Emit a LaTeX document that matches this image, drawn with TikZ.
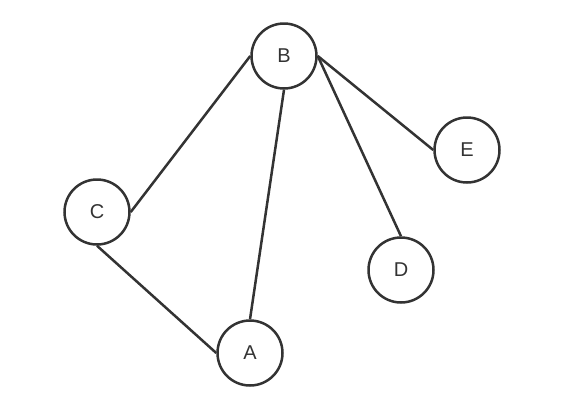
\documentclass[tikz,border=0pt]{standalone}
\usepackage{fontspec}
\setmainfont{Liberation Sans}
\begin{document}
\begin{tikzpicture}[x=1pt,y=-1pt]
\tikzstyle{vertex node}=[circle,draw=black!80,line width=2.5pt,minimum size=65pt,inner sep=0pt,font=\fontsize{20}{24}\selectfont,text=black!80]
\tikzset{
	graph edge/.style={draw=black!80,line width=2.5pt}
}
\useasboundingbox (0,0) rectangle (561,410);
\node[vertex node] (B) at (284,56) {B};
\node[vertex node] (C) at (97,212) {C};
\node[vertex node] (A) at (250,353) {A};
\node[vertex node] (D) at (401,270) {D};
\node[vertex node] (E) at (467,150) {E};
\draw[graph edge] (B.west) -- (C.east);
\draw[graph edge] (B.south) -- (A.north);
\draw[graph edge] (B.east) -- (D.north);
\draw[graph edge] (B.east) -- (E.west);
\draw[graph edge] (C.south) -- (A.west);
\end{tikzpicture}
\end{document}
